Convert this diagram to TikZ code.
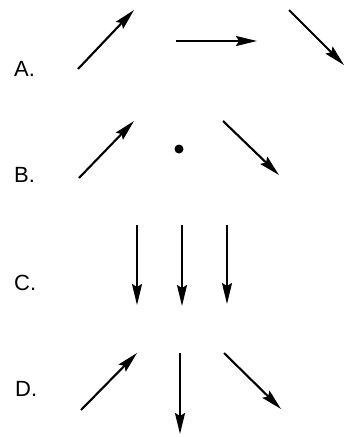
\documentclass[tikz,border=0pt]{standalone}
\usepackage{fontspec}
\setmainfont{Liberation Sans}
\usetikzlibrary{arrows.meta}
\begin{document}
\begin{tikzpicture}[x=1pt,y=-1pt,
  vec/.style={line width=2.1pt,-{Stealth[length=21pt,width=10pt,inset=3pt]}},
  lbl/.style={font=\fontsize{22}{22}\selectfont,inner sep=0pt,anchor=base west}]
\useasboundingbox (0,0) rectangle (344,437);
% labels
\node[lbl] (la) at (14,76) {A.};
\node[lbl] (lb) at (14,182) {B.};
\node[lbl] (lc) at (14,290) {C.};
\node[lbl] (ld) at (15,396) {D.};
% row A
\coordinate (a1s) at (78,69);  \coordinate (a1e) at (134,10);
\coordinate (a2s) at (176,41); \coordinate (a2e) at (257,41);
\coordinate (a3s) at (289,10); \coordinate (a3e) at (344,65);
\draw[vec] (a1s) -- (a1e);
\draw[vec] (a2s) -- (a2e);
\draw[vec] (a3s) -- (a3e);
% row B
\coordinate (b1s) at (79,178); \coordinate (b1e) at (134,121);
\node[circle,fill=black,inner sep=0pt,minimum size=9pt] (bdot) at (179,149) {};
\coordinate (b3s) at (223,121); \coordinate (b3e) at (279,175);
\draw[vec] (b1s) -- (b1e);
\draw[vec] (b3s) -- (b3e);
% row C
\coordinate (c1s) at (137,225); \coordinate (c1e) at (137,305);
\coordinate (c2s) at (182,225); \coordinate (c2e) at (182,306);
\coordinate (c3s) at (227,225); \coordinate (c3e) at (227,304);
\draw[vec] (c1s) -- (c1e);
\draw[vec] (c2s) -- (c2e);
\draw[vec] (c3s) -- (c3e);
% row D
\coordinate (d1s) at (81,410); \coordinate (d1e) at (137,353);
\coordinate (d2s) at (180,353); \coordinate (d2e) at (180,434);
\coordinate (d3s) at (224,353); \coordinate (d3e) at (281,409);
\draw[vec] (d1s) -- (d1e);
\draw[vec] (d2s) -- (d2e);
\draw[vec] (d3s) -- (d3e);
\end{tikzpicture}
\end{document}
